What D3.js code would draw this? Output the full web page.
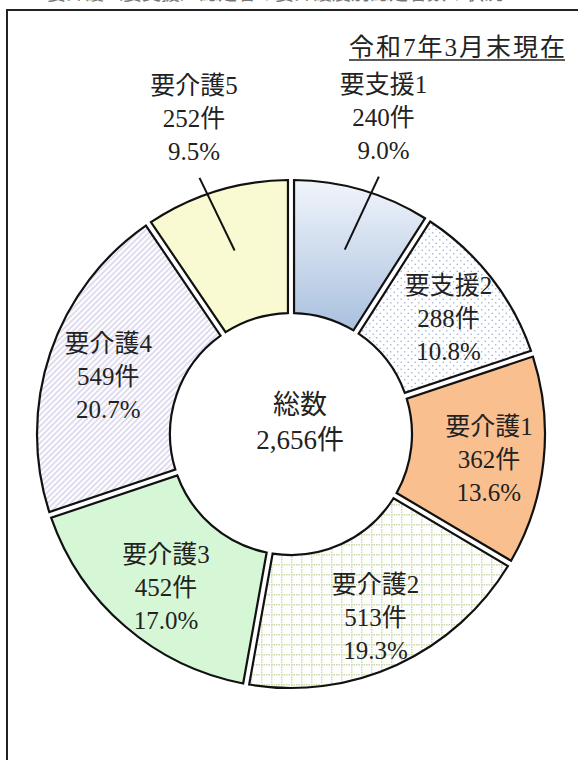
<!DOCTYPE html>
<html><head><meta charset="utf-8">
<script src="https://cdn.jsdelivr.net/npm/d3@7"></script>
<style>
html,body{margin:0;padding:0;background:#fff;}
svg{display:block;}
text{font-family:"Liberation Serif","Noto Sans CJK JP",serif;fill:#222;}
</style></head>
<body>
<svg id="c" width="578" height="760"></svg>
<script>
// ---- data ----
const categories = ["要支援1","要支援2","要介護1","要介護2","要介護3","要介護4","要介護5"];
const counts = [240, 288, 362, 513, 452, 549, 252];
const outsideLabels = ["要支援1","要介護5"];
const subtitle = "令和7年3月末現在";
const centerTitle = "総数";
const titleText = "要介護（要支援）認定者の要介護度別認定者数の状況";

// ---- layout / style ----
const W = 578, H = 760;
const cx = 291, cy = 434, R0 = 121, R1 = 254;
const fillIds = ["url(#grad1)","url(#dots)","#f9bf8f","url(#grid)","#d5f7d5","url(#stripes)","#fafad2"];

const svg = d3.select("#c");
const defs = svg.append("defs");
const g1 = defs.append("linearGradient").attr("id","grad1").attr("x1",0).attr("y1",0).attr("x2",0).attr("y2",1);
g1.append("stop").attr("offset","0%").attr("stop-color","#f1f5fb");
g1.append("stop").attr("offset","100%").attr("stop-color","#a9c0de");

const pd = defs.append("pattern").attr("id","dots").attr("patternUnits","userSpaceOnUse").attr("width",7).attr("height",7);
pd.append("rect").attr("width",7).attr("height",7).attr("fill","#fff");
pd.append("circle").attr("cx",1.75).attr("cy",1.75).attr("r",0.85).attr("fill","#a3b8da");
pd.append("circle").attr("cx",5.25).attr("cy",5.25).attr("r",0.85).attr("fill","#a3b8da");

const pg = defs.append("pattern").attr("id","grid").attr("patternUnits","userSpaceOnUse").attr("width",10).attr("height",10);
pg.append("rect").attr("width",10).attr("height",10).attr("fill","#fff");
pg.append("line").attr("x1",0.75).attr("y1",0).attr("x2",0.75).attr("y2",10).attr("stroke","#c8daa8").attr("stroke-width",1.4).attr("stroke-dasharray","1.5 1");
pg.append("line").attr("x1",0).attr("y1",0.75).attr("x2",10).attr("y2",0.75).attr("stroke","#c8daa8").attr("stroke-width",1.4).attr("stroke-dasharray","1.5 1");

const ps = defs.append("pattern").attr("id","stripes").attr("patternUnits","userSpaceOnUse").attr("width",4).attr("height",4).attr("patternTransform","rotate(45)");
ps.append("rect").attr("width",4).attr("height",4).attr("fill","#fff");
ps.append("line").attr("x1",1).attr("y1",0).attr("x2",1).attr("y2",4).attr("stroke","#c7c0e2").attr("stroke-width",1.1);

svg.append("rect").attr("width",W).attr("height",H).attr("fill","#fff");

// cut-off title at very top
svg.append("text").attr("x",275).attr("y",0).attr("text-anchor","middle")
  .style("font-size","19px").style("fill","#777").text(titleText);

// frame
svg.append("path").attr("d",`M7,${H+5}V10H${W+5}`).attr("fill","none").attr("stroke","#222").attr("stroke-width",2);

// subtitle
const st = svg.append("text").attr("x",567).attr("y",56).attr("text-anchor","end")
  .style("font-size","25px").style("letter-spacing","2px").text(subtitle);
const bb = st.node().getBBox();
svg.append("line").attr("x1",bb.x).attr("x2",bb.x+bb.width-2).attr("y1",60).attr("y2",60).attr("stroke","#222").attr("stroke-width",1.3);

const total = d3.sum(counts);
const pie = d3.pie().sort(null).value(d=>d).startAngle(0).endAngle(2*Math.PI);
const arcs = pie(counts);
const arc = d3.arc().innerRadius(R0).outerRadius(R1).padAngle(0.024).padRadius(R1);

const g = svg.append("g").attr("transform",`translate(${cx},${cy})`);
g.selectAll("path.slice").data(arcs).join("path").attr("class","slice")
  .attr("d",arc).attr("fill",(d,i)=>fillIds[i]).attr("stroke","#111").attr("stroke-width",2.2).attr("stroke-linejoin","miter");

const pct = d3.format(".1f"), num = d3.format(",");
const pt = (r,a)=>[r*Math.sin(a), -r*Math.cos(a)];
const lineGap = 33;

arcs.forEach((d,i)=>{
  const mid = (d.startAngle+d.endAngle)/2;
  const outside = outsideLabels.includes(categories[i]);
  const [px,py] = pt(outside?330:196, mid);
  const lx = px + (outside?0:3), ly = py + (outside?0:5);
  const lines = [categories[i], counts[i]+"件", pct(counts[i]/total*100)+"%"];
  const t = g.append("text").attr("text-anchor","middle").style("font-size","25px");
  lines.forEach((s,k)=>{
    t.append("tspan").attr("x",lx).attr("y",ly+(k-1)*lineGap).attr("dominant-baseline","central").text(s);
  });
  if(outside){
    const sgn = mid<Math.PI?1:-1;
    const a = pt(192,mid), b = pt(272, mid+sgn*0.045);
    g.append("line").attr("x1",a[0]).attr("y1",a[1]).attr("x2",b[0]).attr("y2",b[1]).attr("stroke","#111").attr("stroke-width",2);
  }
});

// center
g.append("text").attr("x",9).attr("y",-29).attr("text-anchor","middle").attr("dominant-baseline","central").style("font-size","27px").text(centerTitle);
g.append("text").attr("x",9).attr("y",6).attr("text-anchor","middle").attr("dominant-baseline","central").style("font-size","27px").text(num(total)+"件");
</script>
</body></html>
